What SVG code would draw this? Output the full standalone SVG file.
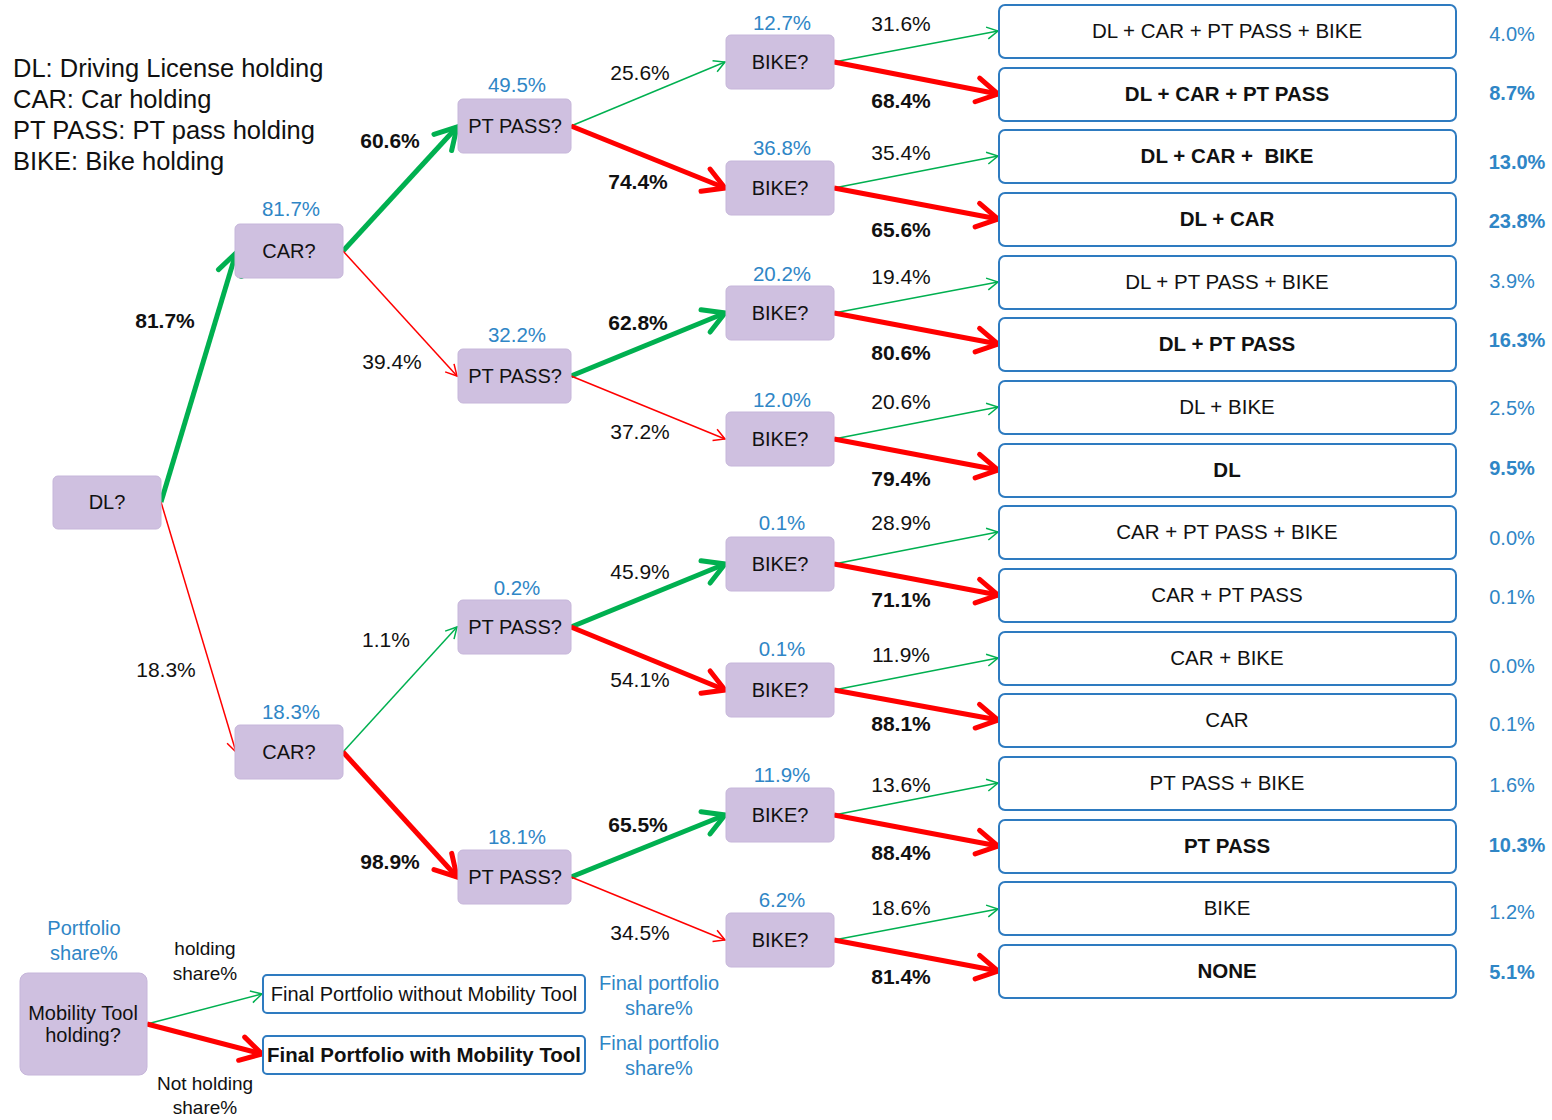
<svg xmlns="http://www.w3.org/2000/svg" width="1552" height="1120" viewBox="0 0 1552 1120">
<defs>
<style>
text{font-family:"Liberation Sans",Arial,sans-serif;fill:#111}
.q{fill:#cfc0e0;stroke:#c6b6da;stroke-width:1}
.f{fill:#fff;stroke:#2e7bc0;stroke-width:2}
.nt{font-size:20px;text-anchor:middle}
.ft{font-size:20.5px;text-anchor:middle}
.b{font-weight:bold}
.el{font-size:21px;text-anchor:middle}
.bl{font-size:20.5px;text-anchor:middle;fill:#2f86c6}
.rp{font-size:20px;text-anchor:middle;fill:#2f86c6}
.lg{font-size:25.5px}
.gT{stroke:#00b050;stroke-width:5;marker-end:url(#aGT);fill:none}
.gt{stroke:#00b050;stroke-width:1.5;marker-end:url(#aGt);fill:none}
.rT{stroke:#ff0000;stroke-width:5;marker-end:url(#aRT);fill:none}
.rt{stroke:#ff0000;stroke-width:1.5;marker-end:url(#aRt);fill:none}
</style>
<marker id="aGT" markerUnits="userSpaceOnUse" viewBox="-26 -16 30 32" markerWidth="30" markerHeight="32" refX="0" refY="0" orient="auto" overflow="visible"><path d="M-21,-12 L0,0 L-21,12" fill="none" stroke="#00b050" stroke-width="5" stroke-linecap="round" stroke-linejoin="miter"/></marker>
<marker id="aRT" markerUnits="userSpaceOnUse" viewBox="-26 -16 30 32" markerWidth="30" markerHeight="32" refX="0" refY="0" orient="auto" overflow="visible"><path d="M-21,-12 L0,0 L-21,12" fill="none" stroke="#ff0000" stroke-width="5" stroke-linecap="round" stroke-linejoin="miter"/></marker>
<marker id="aGt" markerUnits="userSpaceOnUse" viewBox="-14 -8 16 16" markerWidth="16" markerHeight="16" refX="0" refY="0" orient="auto" overflow="visible"><path d="M-11,-6 L0,0 L-11,6" fill="none" stroke="#00b050" stroke-width="1.5"/></marker>
<marker id="aRt" markerUnits="userSpaceOnUse" viewBox="-14 -8 16 16" markerWidth="16" markerHeight="16" refX="0" refY="0" orient="auto" overflow="visible"><path d="M-11,-6 L0,0 L-11,6" fill="none" stroke="#ff0000" stroke-width="1.5"/></marker>
</defs>
<rect width="1552" height="1120" fill="#fff"/>

<g id="legend">
<text class="lg" x="13" y="77">DL: Driving License holding</text>
<text class="lg" x="13" y="108">CAR: Car holding</text>
<text class="lg" x="13" y="139">PT PASS: PT pass holding</text>
<text class="lg" x="13" y="170">BIKE: Bike holding</text>
</g>

<g id="connectors">
<line class="gT" x1="161" y1="502" x2="236" y2="253"/>
<line class="rt" x1="161" y1="502" x2="236" y2="752"/>
<line class="gT" x1="343" y1="251" x2="457" y2="127"/>
<line class="rt" x1="343" y1="251" x2="457" y2="376"/>
<line class="gt" x1="343" y1="752" x2="457" y2="627"/>
<line class="rT" x1="343" y1="752" x2="457" y2="877"/>
<line class="gt" x1="571" y1="126" x2="725" y2="62"/>
<line class="rT" x1="571" y1="126" x2="725" y2="188"/>
<line class="gT" x1="571" y1="376" x2="725" y2="313"/>
<line class="rt" x1="571" y1="376" x2="725" y2="439"/>
<line class="gT" x1="571" y1="627" x2="725" y2="564"/>
<line class="rT" x1="571" y1="627" x2="725" y2="690"/>
<line class="gT" x1="571" y1="877" x2="725" y2="815"/>
<line class="rt" x1="571" y1="877" x2="725" y2="940"/>
<line class="gt" x1="834" y1="62" x2="998" y2="31"/>
<line class="rT" x1="834" y1="62" x2="998" y2="94"/>
<line class="gt" x1="834" y1="188" x2="998" y2="156"/>
<line class="rT" x1="834" y1="188" x2="998" y2="219"/>
<line class="gt" x1="834" y1="313" x2="998" y2="282"/>
<line class="rT" x1="834" y1="313" x2="998" y2="344"/>
<line class="gt" x1="834" y1="439" x2="998" y2="407"/>
<line class="rT" x1="834" y1="439" x2="998" y2="470"/>
<line class="gt" x1="834" y1="564" x2="998" y2="532"/>
<line class="rT" x1="834" y1="564" x2="998" y2="595"/>
<line class="gt" x1="834" y1="690" x2="998" y2="658"/>
<line class="rT" x1="834" y1="690" x2="998" y2="720"/>
<line class="gt" x1="834" y1="815" x2="998" y2="783"/>
<line class="rT" x1="834" y1="815" x2="998" y2="846"/>
<line class="gt" x1="834" y1="940" x2="998" y2="909"/>
<line class="rT" x1="834" y1="940" x2="998" y2="971"/>
<line class="gt" x1="147" y1="1024" x2="262" y2="994"/>
<line class="rT" x1="147" y1="1024" x2="262" y2="1054"/>
</g>

<g id="edge-labels">
<text class="el b" x="165" y="328">81.7%</text>
<text class="el" x="166" y="677">18.3%</text>
<text class="el b" x="390" y="148">60.6%</text>
<text class="el" x="392" y="369">39.4%</text>
<text class="el" x="386" y="647">1.1%</text>
<text class="el b" x="390" y="869">98.9%</text>
<text class="el" x="640" y="80">25.6%</text>
<text class="el b" x="638" y="189">74.4%</text>
<text class="el b" x="638" y="330">62.8%</text>
<text class="el" x="640" y="439">37.2%</text>
<text class="el" x="640" y="579">45.9%</text>
<text class="el" x="640" y="687">54.1%</text>
<text class="el b" x="638" y="832">65.5%</text>
<text class="el" x="640" y="940">34.5%</text>
<text class="el" x="901" y="31">31.6%</text>
<text class="el b" x="901" y="108">68.4%</text>
<text class="el" x="901" y="160">35.4%</text>
<text class="el b" x="901" y="237">65.6%</text>
<text class="el" x="901" y="284">19.4%</text>
<text class="el b" x="901" y="360">80.6%</text>
<text class="el" x="901" y="409">20.6%</text>
<text class="el b" x="901" y="486">79.4%</text>
<text class="el" x="901" y="530">28.9%</text>
<text class="el b" x="901" y="607">71.1%</text>
<text class="el" x="901" y="662">11.9%</text>
<text class="el b" x="901" y="731">88.1%</text>
<text class="el" x="901" y="792">13.6%</text>
<text class="el b" x="901" y="860">88.4%</text>
<text class="el" x="901" y="915">18.6%</text>
<text class="el b" x="901" y="984">81.4%</text>
</g>

<g id="node-dl"><rect class="q" x="53" y="476" width="108" height="53" rx="5"/><text class="nt" x="107" y="509">DL?</text></g>
<g id="node-car1"><text class="bl" x="291" y="216">81.7%</text><rect class="q" x="235" y="224" width="108" height="54" rx="5"/><text class="nt" x="289" y="258">CAR?</text></g>
<g id="node-car2"><text class="bl" x="291" y="719">18.3%</text><rect class="q" x="235" y="725" width="108" height="54" rx="5"/><text class="nt" x="289" y="759">CAR?</text></g>
<g id="node-pt1"><text class="bl" x="517" y="92">49.5%</text><rect class="q" x="458" y="99" width="113" height="54" rx="5"/><text class="nt" x="515" y="133">PT PASS?</text></g>
<g id="node-pt2"><text class="bl" x="517" y="342">32.2%</text><rect class="q" x="458" y="349" width="113" height="54" rx="5"/><text class="nt" x="515" y="383">PT PASS?</text></g>
<g id="node-pt3"><text class="bl" x="517" y="595">0.2%</text><rect class="q" x="458" y="600" width="113" height="54" rx="5"/><text class="nt" x="515" y="634">PT PASS?</text></g>
<g id="node-pt4"><text class="bl" x="517" y="844">18.1%</text><rect class="q" x="458" y="850" width="113" height="54" rx="5"/><text class="nt" x="515" y="884">PT PASS?</text></g>

<g id="node-bike1"><text class="bl" x="782" y="30">12.7%</text><rect class="q" x="726" y="35" width="108" height="54" rx="5"/><text class="nt" x="780" y="69">BIKE?</text></g>
<g id="node-bike2"><text class="bl" x="782" y="155">36.8%</text><rect class="q" x="726" y="161" width="108" height="54" rx="5"/><text class="nt" x="780" y="195">BIKE?</text></g>
<g id="node-bike3"><text class="bl" x="782" y="281">20.2%</text><rect class="q" x="726" y="286" width="108" height="54" rx="5"/><text class="nt" x="780" y="320">BIKE?</text></g>
<g id="node-bike4"><text class="bl" x="782" y="407">12.0%</text><rect class="q" x="726" y="412" width="108" height="54" rx="5"/><text class="nt" x="780" y="446">BIKE?</text></g>
<g id="node-bike5"><text class="bl" x="782" y="530">0.1%</text><rect class="q" x="726" y="537" width="108" height="54" rx="5"/><text class="nt" x="780" y="571">BIKE?</text></g>
<g id="node-bike6"><text class="bl" x="782" y="656">0.1%</text><rect class="q" x="726" y="663" width="108" height="54" rx="5"/><text class="nt" x="780" y="697">BIKE?</text></g>
<g id="node-bike7"><text class="bl" x="782" y="782">11.9%</text><rect class="q" x="726" y="788" width="108" height="54" rx="5"/><text class="nt" x="780" y="822">BIKE?</text></g>
<g id="node-bike8"><text class="bl" x="782" y="907">6.2%</text><rect class="q" x="726" y="913" width="108" height="54" rx="5"/><text class="nt" x="780" y="947">BIKE?</text></g>

<g id="final-1"><rect class="f" x="999" y="5" width="457" height="53" rx="6"/><text class="ft" x="1227" y="38">DL + CAR + PT PASS + BIKE</text><text class="rp" x="1512" y="41">4.0%</text></g>
<g id="final-2"><rect class="f" x="999" y="68" width="457" height="53" rx="6"/><text class="ft b" x="1227" y="101">DL + CAR + PT PASS</text><text class="rp b" x="1512" y="100">8.7%</text></g>
<g id="final-3"><rect class="f" x="999" y="130" width="457" height="53" rx="6"/><text class="ft b" x="1227" y="163">DL + CAR +&#160; BIKE</text><text class="rp b" x="1517" y="169">13.0%</text></g>
<g id="final-4"><rect class="f" x="999" y="193" width="457" height="53" rx="6"/><text class="ft b" x="1227" y="226">DL + CAR</text><text class="rp b" x="1517" y="228">23.8%</text></g>
<g id="final-5"><rect class="f" x="999" y="256" width="457" height="53" rx="6"/><text class="ft" x="1227" y="289">DL + PT PASS + BIKE</text><text class="rp" x="1512" y="288">3.9%</text></g>
<g id="final-6"><rect class="f" x="999" y="318" width="457" height="53" rx="6"/><text class="ft b" x="1227" y="351">DL + PT PASS</text><text class="rp b" x="1517" y="347">16.3%</text></g>
<g id="final-7"><rect class="f" x="999" y="381" width="457" height="53" rx="6"/><text class="ft" x="1227" y="414">DL + BIKE</text><text class="rp" x="1512" y="415">2.5%</text></g>
<g id="final-8"><rect class="f" x="999" y="444" width="457" height="53" rx="6"/><text class="ft b" x="1227" y="477">DL</text><text class="rp b" x="1512" y="475">9.5%</text></g>
<g id="final-9"><rect class="f" x="999" y="506" width="457" height="53" rx="6"/><text class="ft" x="1227" y="539">CAR + PT PASS + BIKE</text><text class="rp" x="1512" y="545">0.0%</text></g>
<g id="final-10"><rect class="f" x="999" y="569" width="457" height="53" rx="6"/><text class="ft" x="1227" y="602">CAR + PT PASS</text><text class="rp" x="1512" y="604">0.1%</text></g>
<g id="final-11"><rect class="f" x="999" y="632" width="457" height="53" rx="6"/><text class="ft" x="1227" y="665">CAR + BIKE</text><text class="rp" x="1512" y="673">0.0%</text></g>
<g id="final-12"><rect class="f" x="999" y="694" width="457" height="53" rx="6"/><text class="ft" x="1227" y="727">CAR</text><text class="rp" x="1512" y="731">0.1%</text></g>
<g id="final-13"><rect class="f" x="999" y="757" width="457" height="53" rx="6"/><text class="ft" x="1227" y="790">PT PASS + BIKE</text><text class="rp" x="1512" y="792">1.6%</text></g>
<g id="final-14"><rect class="f" x="999" y="820" width="457" height="53" rx="6"/><text class="ft b" x="1227" y="853">PT PASS</text><text class="rp b" x="1517" y="852">10.3%</text></g>
<g id="final-15"><rect class="f" x="999" y="882" width="457" height="53" rx="6"/><text class="ft" x="1227" y="915">BIKE</text><text class="rp" x="1512" y="919">1.2%</text></g>
<g id="final-16"><rect class="f" x="999" y="945" width="457" height="53" rx="6"/><text class="ft b" x="1227" y="978">NONE</text><text class="rp b" x="1512" y="979">5.1%</text></g>

<g id="key-legend">
<text class="bl" x="84" y="935" style="font-size:20px">Portfolio</text>
<text class="bl" x="84" y="960" style="font-size:20px">share%</text>
<text class="nt" x="205" y="955" style="font-size:19px">holding</text>
<text class="nt" x="205" y="980" style="font-size:19px">share%</text>
<text class="nt" x="205" y="1090" style="font-size:19px">Not holding</text>
<text class="nt" x="205" y="1114" style="font-size:19px">share%</text>
<text class="bl" x="659" y="990" style="font-size:20px">Final portfolio</text>
<text class="bl" x="659" y="1015" style="font-size:20px">share%</text>
<text class="bl" x="659" y="1050" style="font-size:20px">Final portfolio</text>
<text class="bl" x="659" y="1075" style="font-size:20px">share%</text>
</g>
<g id="node-mobility"><rect class="q" x="20" y="973" width="127" height="102" rx="8"/><text class="nt" x="83" y="1020">Mobility Tool</text><text class="nt" x="83" y="1042">holding?</text></g>
<g id="node-without"><rect class="f" x="263" y="975" width="322" height="38" rx="4"/><text class="nt" x="424" y="1001">Final Portfolio without Mobility Tool</text></g>
<g id="node-with"><rect class="f" x="263" y="1036" width="322" height="38" rx="4"/><text class="nt b" x="424" y="1062" textLength="314" lengthAdjust="spacingAndGlyphs">Final Portfolio with Mobility Tool</text></g>
</svg>
